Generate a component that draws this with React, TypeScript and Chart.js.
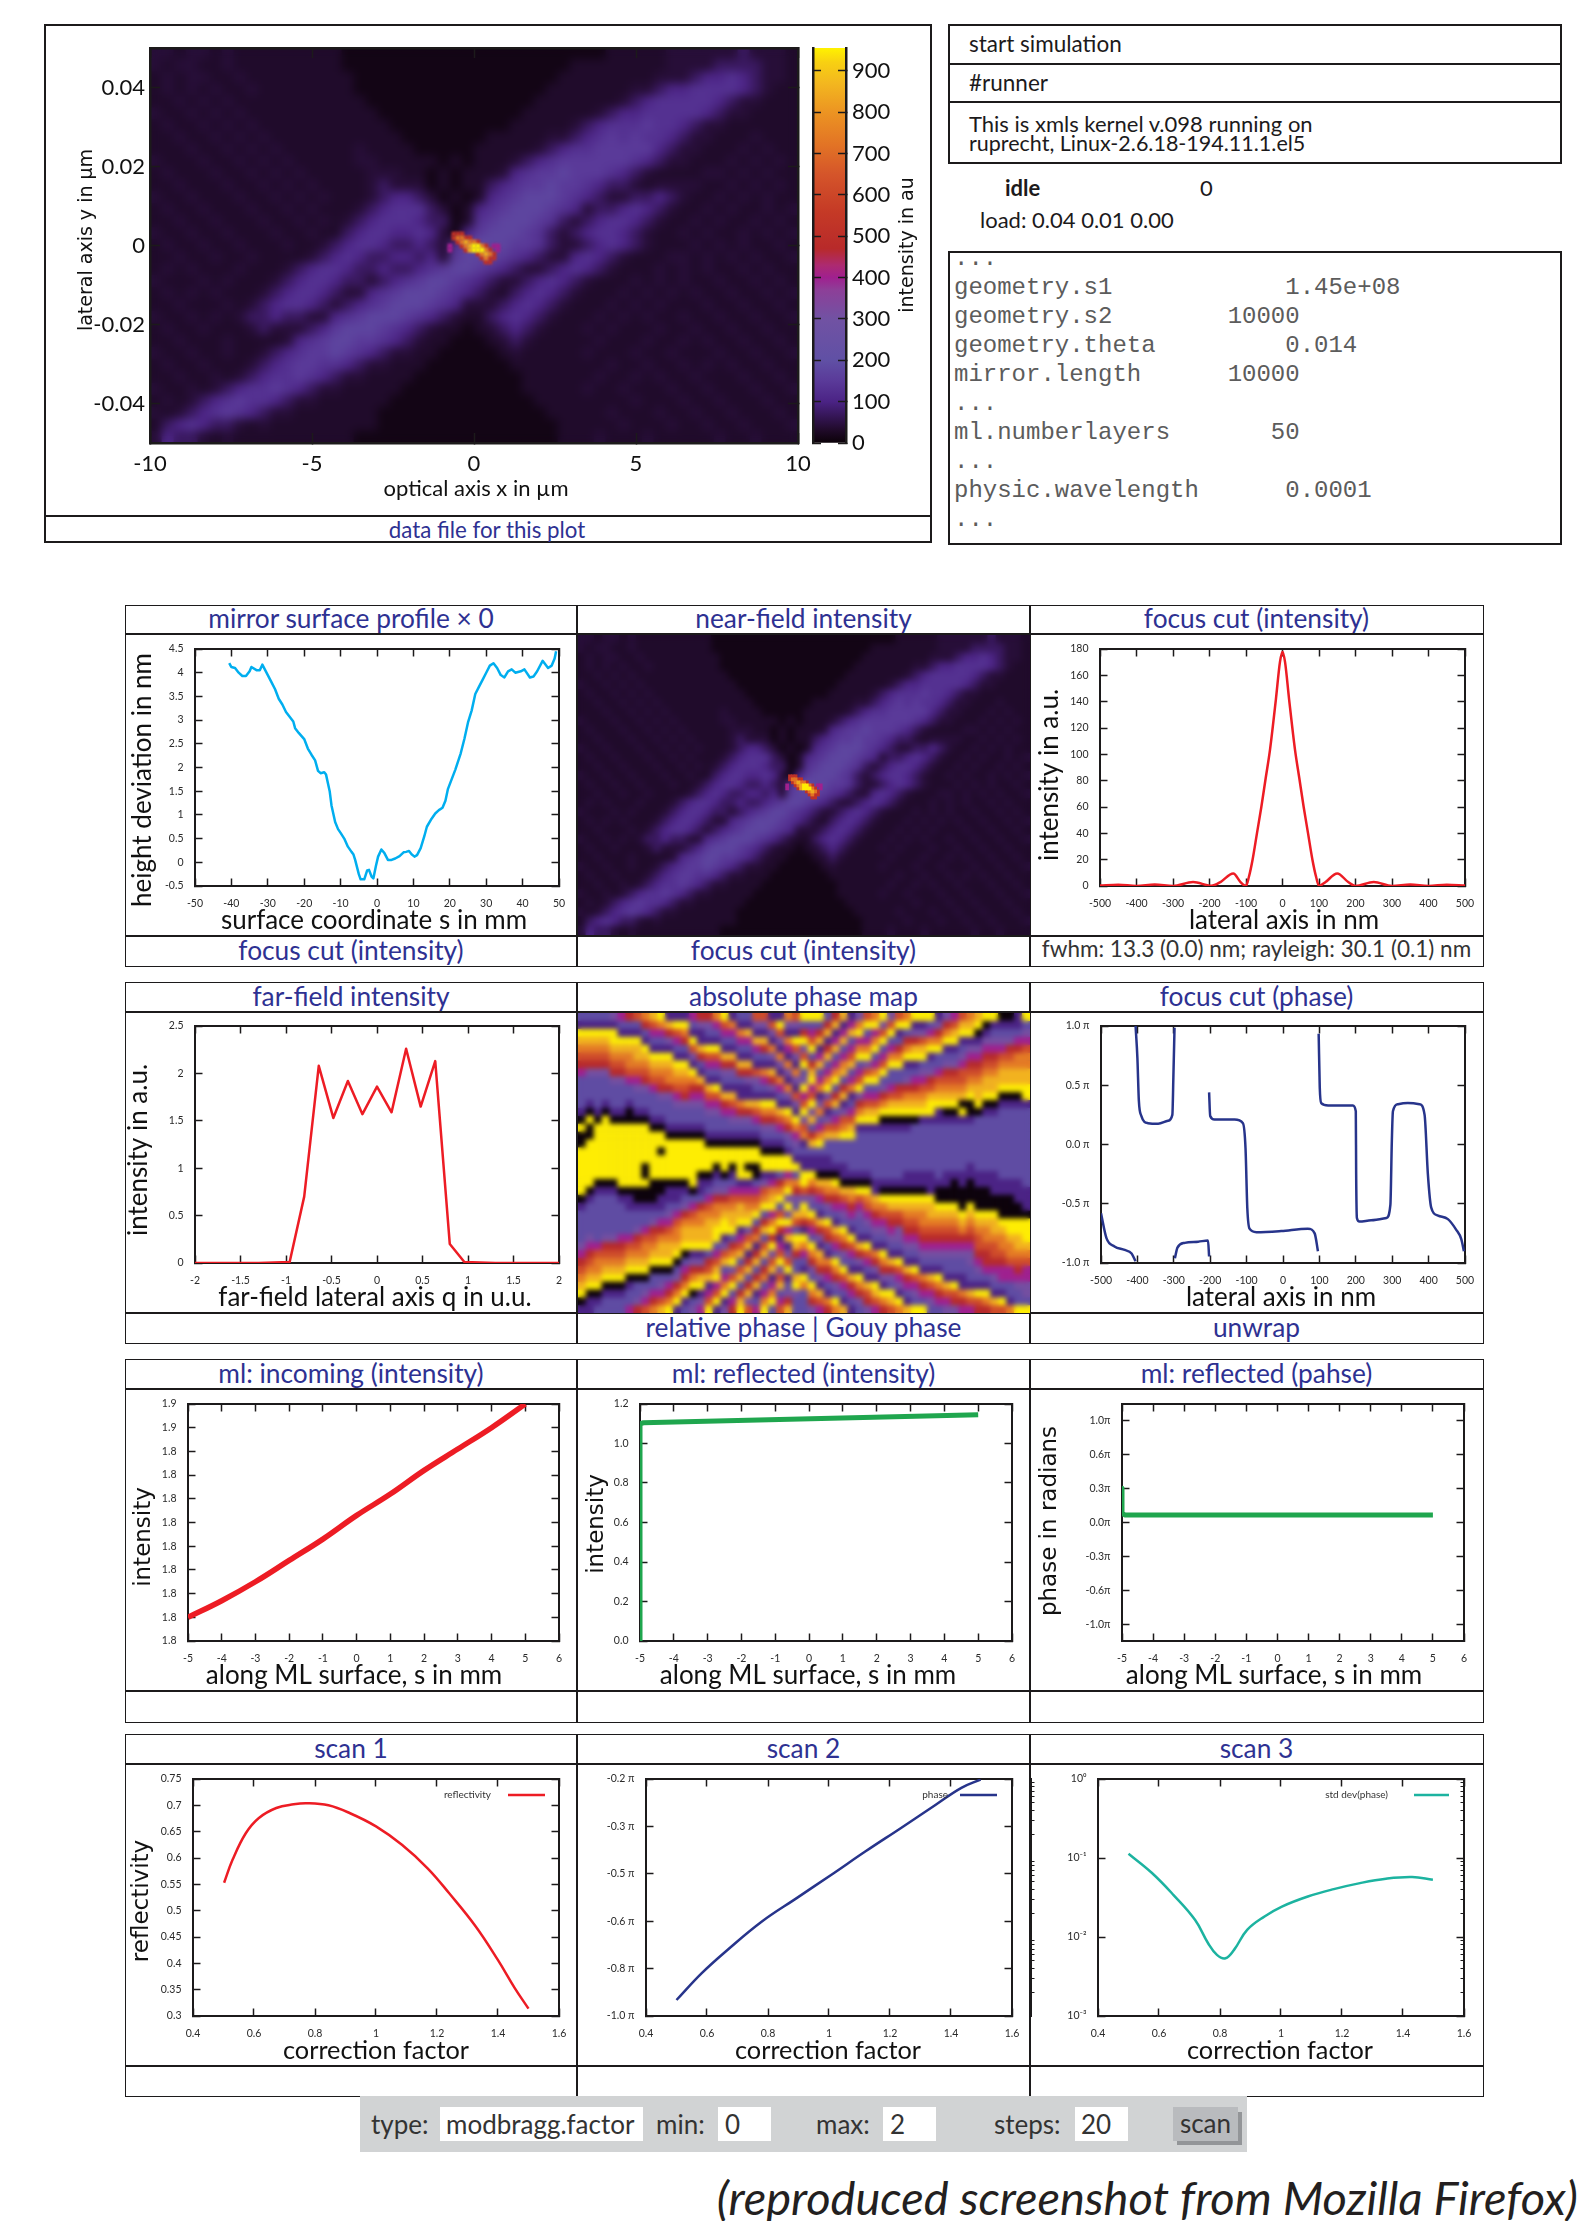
import React, { useEffect, useRef } from "react";
import { Chart, Scale, registerables } from "chart.js";

Chart.register(...registerables);

// ---------- data ----------
const intensityRows = [
  "221221211 111111100 000000000 000000000 001111122 222232221",
  "212211211 111111100 000000000 000000001 111111122 223333221",
  "121221121 111111110 000000000 000000011 111111222 344543221",
  "121212112 111111110 000000000 000000111 111122344 555543211",
  "112121211 111111111 000000000 000001111 111234555 554322111",
  "211212121 111111111 100000000 000011111 123445555 543221111",
  "121121212 111111111 110000000 000111112 345556554 322111111",
  "112112121 211111111 111000000 011111223 456565543 221112111",
  "111211212 121111112 111100000 111112345 566666432 211121211",
  "211121121 212111112 211111010 111234566 666654322 111212121",
  "121112112 121211111 222110101 112456676 665432111 122121211",
  "112111211 212121111 232220101 134566766 543321222 211212121",
  "211211121 121212111 234432010 145677765 432233432 112121211",
  "121121112 112121112 345553201 456777654 233454321 121211212",
  "112112111 211212123 455543301 567776532 345543211 212112121",
  "211211211 121121134 554454204 677765323 455432112 121121212",
  "121121121 112112345 543343257 877665322 345432111 212121121",
  "112112112 111123454 334434267 776543224 543211122 121212112",
  "121211121 112345543 343345677 654322345 432111212 121121211",
  "211121211 123455433 234567765 432234543 211121212 112112121",
  "121212111 234554322 456777654 321345432 111212121 211211212",
  "112111212 345543234 567776542 223454321 112121211 121121121",
  "211212123 343322456 777654321 134543211 121212112 112112112",
  "121121112 322234677 765432110 123432111 212111211 211211211",
  "112111211 112456776 654321100 012321111 121112112 121121121",
  "211211211 234566765 432211000 001211111 211121121 112112112",
  "121121112 345665543 221110000 000111111 112112112 121211211",
  "112112123 455654322 111100000 000011111 121121211 211121121",
  "211212345 565432211 111000000 000011111 211211121 121112112",
  "121234565 543221111 110000000 000001111 111121112 112111211",
  "212345654 322111111 100000000 000000111 112111211 211211121",
  "134543321 211111111 100000000 000000011 111211121 121121112",
  "243321211 111111110 000000000 000000011 121112111 112112111",
];
const intensityLevels = [12, 32, 42, 72, 105, 130, 150, 175, 200, 235];

const peakRows = [
  "...rrr..........",
  "...roorr........",
  "....rogoor......",
  "..m..rogyyor.mm.",
  "..m...rgyyyor.m.",
  ".........rogor..",
  "..........rorr..",
  "...........rr...",
];
const peakLevels: Record<string, number> = { m: 400, r: 510, o: 720, g: 840, y: 950 };

const phaseColumns = [
  "1098765432 2221099999 9009012222 45678912",
  "1109876543 2222109999 9900901222 35678912",
  "2109877642 2222210999 9999012222 35678912",
  "2210987653 2222210999 9999901222 35678912",
  "2210987653 2222210999 9999012223 56789913",
  "2210987654 2222109999 9999012223 56789124",
  "4221098764 2221109999 9999001224 67789125",
  "5322098765 3221009999 9999012234 67889126",
  "6432098776 4221009009 9999012235 67891257",
  "7542209876 5321000999 9990122246 78912468",
  "8643209887 5421100999 0990122356 78912479",
  "9754209887 6432110999 9901222357 78913581",
  "1975320987 7642110999 9901223467 89124691",
  "2197542098 8753210999 9901223567 89125791",
  "3209753198 8764209999 9901223457 91369124",
  "4319853198 8775211099 9901223458 12581135",
  "9641865298 8876421099 9012234681 24691235",
  "1964986429 9877532109 9012234691 24691247",
  "3197428631 9987532099 9012245812 35812469",
  "5429639752 9887642109 9012346812 35812471",
  "9852862864 1988641999 9012357112 58124712",
  "6385285186 3987641909 9012358113 58124812",
  "4218528517 5297642009 9012468123 61248136",
  "9742752862 8529763199 0123579124 71258136",
  "2974186395 9749874199 0123579135 81371361",
  "6428639641 5962975299 0124681247 13713691",
  "8532196318 4939397499 1235791371 37147137",
  "2239822589 2682357291 2347913613 71369136",
  "2227912479 1589369911 2176396493 29639529",
  "3579235792 4692357911 2852839649 85296429",
  "4681357813 5812468011 2974273174 28418529",
  "5712457125 6923578011 2286316397 42851852",
  "7923579246 8124579012 2286428529 74284185",
  "8124692357 9234680112 2297631852 87428418",
  "1245812469 1245780122 2298642174 28642841",
  "2357913581 2234690122 2221975396 42974973",
  "3568124691 2346790122 2221986429 63974296",
  "4689135712 3457811222 2221986429 74297497",
  "5791357912 3467901222 2221097532 96429639",
  "6892358123 4568901222 2221098642 29742963",
  "7913469123 3568901222 2221098652 29752196",
  "8124581234 5678901122 2221098753 21975297",
  "9234691234 5678901122 2222098754 21985319",
  "9245712345 6778901122 2222198764 32986319",
  "2346812345 6788911122 2222199865 32197429",
  "2457912345 6789001222 2222119876 42297531",
  "3468122345 6789001122 2222109876 53219753",
  "3569122345 6789000122 2222109876 53219864",
  "4571122345 7890001122 2222190876 64321986",
  "4681223345 6789000112 2222100987 65431987",
  "5691234566 7890001122 2222209887 65431098",
  "5791245567 7890001122 2222210988 76543109",
  "6812345667 8890011122 2222210988 76543219",
  "6912445677 8900011222 2222221098 87643210",
  "7122446778 9900011222 2222221098 87653210",
  "9223456788 9900111222 2222221098 87754211",
  "9233446789 9901112222 2222221998 87764329",
];
const phaseLevels = [0, 100, 190, 310, 400, 470, 620, 740, 860, 950];

const paletteValues = [0, 30, 60, 100, 150, 200, 300, 370, 400, 430, 470, 560, 650, 720, 800, 870, 920, 955];
const paletteColors = ["#0b0108", "#1f0a28", "#321450", "#4b2385", "#5a3a99", "#6050a5", "#7152a3", "#8d3f98", "#a0208f", "#ad2a70", "#b82a2a", "#c53a26", "#d5552a", "#e27325", "#ec9422", "#f3b71f", "#f8d012", "#fff200"];

const topXTicks = [-10, -5, 0, 5, 10];
const topYTicks = [-0.04, -0.02, 0, 0.02, 0.04];
const colorbarTicks = [0, 100, 200, 300, 400, 500, 600, 700, 800, 900];

const mirrorS = [-40.6, -40, -39, -38, -37, -36, -35, -34.5, -33, -32.2, -31.5, -30, -29, -28, -27, -26, -25, -24, -23, -22.5, -21.5, -20, -19, -18, -17, -16.2, -15.5, -14.5, -14, -13, -12.5, -11.5, -10.7, -10, -9, -8, -7, -6.5, -6, -5, -4.5, -3.5, -2.7, -2.2, -1.5, -1, -0.3, 0.3, 1.2, 2, 3, 4, 5, 6.2, 7.3, 8, 8.8, 9.5, 10.3, 11, 12, 13, 13.7, 15, 16, 17, 18, 18.8, 19.5, 20.5, 21.5, 23, 24, 25, 26, 27, 28, 29, 30, 31, 32, 33, 34, 35, 36, 37, 38, 39.5, 40.5, 42, 43, 44, 45.5, 47, 48, 48.8, 49.2];
const mirrorH = [4.2, 4.12, 4.1, 4.0, 3.93, 3.93, 4.03, 4.12, 4.05, 4.05, 4.17, 3.95, 3.8, 3.65, 3.45, 3.33, 3.17, 3.07, 2.97, 2.83, 2.73, 2.6, 2.4, 2.27, 2.15, 1.93, 1.88, 1.9, 1.85, 1.5, 1.2, 0.85, 0.7, 0.62, 0.5, 0.33, 0.22, 0.17, 0.05, -0.25, -0.36, -0.36, -0.17, -0.16, -0.3, -0.34, -0.08, 0.12, 0.27, 0.2, 0.05, 0.05, 0.08, 0.13, 0.21, 0.22, 0.24, 0.17, 0.12, 0.15, 0.3, 0.55, 0.75, 0.92, 1.03, 1.1, 1.15, 1.3, 1.55, 1.75, 1.95, 2.3, 2.6, 2.95, 3.2, 3.55, 3.7, 3.85, 4.0, 4.15, 4.2, 4.1, 3.95, 3.9, 4.03, 4.07, 4.0, 4.03, 4.07, 3.9, 3.92, 4.03, 4.25, 4.1, 4.15, 4.3, 4.45];
const mirrorXTicks = [-50, -40, -30, -20, -10, 0, 10, 20, 30, 40, 50];
const mirrorYTicks = [-0.5, 0, 0.5, 1, 1.5, 2, 2.5, 3, 3.5, 4, 4.5];

const focusX = [-500, -450, -400, -350, -300, -245, -195, -170, -135, -115, -105, -100, -92, -82, -70, -58, -46, -34, -18, -7, 0, 7, 18, 34, 46, 58, 70, 82, 92, 100, 105, 118, 150, 180, 200, 250, 300, 350, 400, 450, 500];
const focusI = [0.3, 1, 0, 1.2, 0, 3, 0.2, 3, 9.5, 3, 0.5, 0, 7, 20, 40, 60, 82, 104, 142, 170, 178, 170, 142, 104, 82, 60, 40, 20, 7, 0, 0.5, 3, 9.5, 3, 0, 3, 0, 1.2, 0, 1, 0.3];
const lateralTicks = [-500, -400, -300, -200, -100, 0, 100, 200, 300, 400, 500];
const focusYTicks = [0, 20, 40, 60, 80, 100, 120, 140, 160, 180];

const farQ = [-2, -1.3, -0.96, -0.8, -0.64, -0.48, -0.32, -0.16, 0, 0.16, 0.32, 0.48, 0.64, 0.8, 0.96, 1.3, 2];
const farI = [0, 0, 0.01, 0.7, 2.08, 1.53, 1.92, 1.57, 1.86, 1.59, 2.26, 1.65, 2.13, 0.2, 0.01, 0, 0];
const farXTicks = [-2, -1.5, -1, -0.5, 0, 0.5, 1, 1.5, 2];
const farYTicks = [0, 0.5, 1, 1.5, 2, 2.5];

const phaseCutX = [-500, -485, -463, -435, -416, -405, -405, -405, -400, -396, -389, -371, -343, -316, -304, -301, -298, -298, -297, -290, -270, -233, -206, -203, -203, -203, -200, -188, -133, -110, -103, -98, -92, -73, -5, 68, 87, 96, 97, 98, 101, 105, 124, 192, 200, 201, 203, 210, 242, 284, 295, 299, 302, 316, 343, 375, 389, 398, 407, 426, 453, 476, 490, 497];
const phaseCutY = [-0.58, -0.79, -0.86, -0.89, -0.92, -0.985, null, 1.0, 0.73, 0.37, 0.24, 0.18, 0.175, 0.2, 0.25, 0.59, 0.985, null, -0.96, -0.87, -0.83, -0.82, -0.81, -0.945, null, 0.44, 0.24, 0.21, 0.21, 0.18, -0.03, -0.54, -0.71, -0.74, -0.73, -0.71, -0.75, -0.9, null, 0.935, 0.48, 0.35, 0.33, 0.33, 0.28, -0.25, -0.62, -0.65, -0.64, -0.62, -0.51, 0.03, 0.28, 0.34, 0.35, 0.34, 0.25, -0.25, -0.53, -0.6, -0.63, -0.72, -0.8, -0.9];
const phaseCutYTicks = [-1, -0.5, 0, 0.5, 1];
const phaseCutYLabels = ["-1.0 π", "-0.5 π", "0.0 π", "0.5 π", "1.0 π"];

const mlXTicks = [-5, -4, -3, -2, -1, 0, 1, 2, 3, 4, 5, 6];
const incomingS = [-5, -4, -3, -2, -1, 0, 1, 2, 3, 4, 5];
const incomingI = [1.77, 1.777, 1.785, 1.794, 1.803, 1.813, 1.822, 1.832, 1.841, 1.85, 1.86];
const incomingYTicks = [1.76, 1.77, 1.78, 1.79, 1.8, 1.81, 1.82, 1.83, 1.84, 1.85, 1.86];
const incomingYLabels = ["1.8", "1.8", "1.8", "1.8", "1.8", "1.8", "1.8", "1.8", "1.8", "1.9", "1.9"];
const reflectedS = [-5, -5, -4.9, 5];
const reflectedI = [0, 1.1, 1.105, 1.145];
const reflectedYTicks = [0, 0.2, 0.4, 0.6, 0.8, 1, 1.2];
const reflectedYLabels = ["0.0", "0.2", "0.4", "0.6", "0.8", "1.0", "1.2"];
const reflPhaseS = [-5, -5, -4.9, 5];
const reflPhaseY = [0.338, 0.09, 0.075, 0.075];
const reflPhaseYTicks = [-1, -0.667, -0.333, 0, 0.333, 0.667, 1];
const reflPhaseYLabels = ["-1.0π", "-0.6π", "-0.3π", "0.0π", "0.3π", "0.6π", "1.0π"];

const scanXTicks = [0.4, 0.6, 0.8, 1, 1.2, 1.4, 1.6];
const scan1X = [0.502, 0.53, 0.573, 0.616, 0.673, 0.73, 0.773, 0.844, 0.915, 1.0, 1.085, 1.17, 1.24, 1.327, 1.4, 1.455, 1.5];
const scan1Y = [0.553, 0.597, 0.647, 0.676, 0.695, 0.702, 0.704, 0.7, 0.685, 0.66, 0.625, 0.58, 0.533, 0.47, 0.406, 0.353, 0.314];
const scan1YTicks = [0.3, 0.35, 0.4, 0.45, 0.5, 0.55, 0.6, 0.65, 0.7, 0.75];
const scan2X = [0.5, 0.582, 0.667, 0.78, 0.894, 1.008, 1.12, 1.235, 1.35, 1.434, 1.497];
const scan2Y = [-0.946, -0.856, -0.777, -0.681, -0.602, -0.523, -0.444, -0.366, -0.287, -0.23, -0.202];
const scan2YTicks = [-1, -0.84, -0.68, -0.52, -0.36, -0.2];
const scan2YLabels = ["-1.0 π", "-0.8 π", "-0.6 π", "-0.5 π", "-0.3 π", "-0.2 π"];
const scan3X = [0.5, 0.577, 0.647, 0.718, 0.761, 0.79, 0.818, 0.846, 0.889, 0.946, 1.003, 1.088, 1.173, 1.259, 1.344, 1.43, 1.498];
const scan3Y = [0.113, 0.0645, 0.0342, 0.0165, 0.00834, 0.00594, 0.00538, 0.00687, 0.0123, 0.0182, 0.0243, 0.0326, 0.0404, 0.0481, 0.0546, 0.0573, 0.053];
const scan3YTicks = [0.001, 0.01, 0.1, 1];
const scan3YLabels = ["10⁻³", "10⁻²", "10⁻¹", "10⁰"];
const scan3YMinor = [0.002, 0.003, 0.004, 0.005, 0.006, 0.007, 0.008, 0.009, 0.02, 0.03, 0.04, 0.05, 0.06, 0.07, 0.08, 0.09, 0.2, 0.3, 0.4, 0.5, 0.6, 0.7, 0.8, 0.9];

const configLines = [
  "...",
  "geometry.s1            1.45e+08",
  "geometry.s2        10000",
  "geometry.theta         0.014",
  "mirror.length      10000",
  "...",
  "ml.numberlayers       50",
  "...",
  "physic.wavelength      0.0001",
  "...",
];

// ---------- helpers ----------
const SANS = "Lato";
const WIDE = "'DejaVu Sans'";
const INK = "#1c1a1b";
const BLUE = "#2e3192";
const RED = "#ed1c24";
const GREEN = "#1fa64e";
const NAVY = "#27348b";
const SKY = "#00aeef";
const TEAL = "#1cb3a0";

const hex = (c: string) => [1, 3, 5].map((i) => parseInt(c.slice(i, i + 2), 16));
function colorAt(v: number) {
  let i = 0;
  while (i < paletteValues.length - 2 && v > paletteValues[i + 1]) i++;
  const t = Math.max(0, Math.min(1, (v - paletteValues[i]) / (paletteValues[i + 1] - paletteValues[i])));
  const a = hex(paletteColors[i]);
  const b = hex(paletteColors[i + 1]);
  return `rgb(${a.map((q, k) => Math.round(q + (b[k] - q) * t)).join(",")})`;
}

type Box = { l: number; t: number; r: number; b: number };

function axis(o: any) {
  const horizontal = o.pos === "top" || o.pos === "bottom";
  const size = o.size ?? 0;
  const tl = o.tickLen ?? 7.5;
  return {
    type: o.type ?? "linear",
    axis: horizontal ? "x" : "y",
    position: o.pos,
    min: o.min,
    max: o.max,
    afterBuildTicks: (s: any) => {
      s.ticks = (o.ticks ?? []).map((value: number) => ({ value }));
    },
    afterFit: (s: any) => {
      if (horizontal) s.height = size;
      else s.width = size;
      s.paddingLeft = 0;
      s.paddingRight = 0;
      s.paddingTop = 0;
      s.paddingBottom = 0;
      if (o.title && !s.__shifted) {
        s.__shifted = true;
        s.drawTitle = function () {
          const lh = o.title.size * 1.2;
          const curX = horizontal ? (this.left + this.right) / 2 : this.left + lh / 2;
          const curY = horizontal ? this.bottom - lh / 2 : (this.top + this.bottom) / 2;
          const keep = [this.left, this.right, this.top, this.bottom];
          if (horizontal) {
            this.left -= 300;
            this.right += 300;
          } else {
            this.top -= 300;
            this.bottom += 300;
          }
          this.ctx.save();
          this.ctx.translate(o.title.cx - curX, o.title.cy - curY);
          (Scale.prototype as any).drawTitle.call(this);
          this.ctx.restore();
          [this.left, this.right, this.top, this.bottom] = keep;
        };
      }
    },
    ticks: {
      display: !!o.showLabels,
      autoSkip: false,
      maxRotation: 0,
      minRotation: 0,
      padding: (o.gap ?? 12) + tl,
      color: o.labelColor ?? "#2a2a2a",
      font: { family: SANS, size: o.labelSize ?? 10.5 },
      callback: (v: number, i: number) => (o.labels ? o.labels[i] : String(v)),
    },
    grid: {
      drawOnChartArea: false,
      tickLength: -tl,
      tickColor: INK,
      tickWidth: o.tickWidth ?? 1.5,
      z: o.z ?? -1,
    },
    border: { display: true, color: INK, width: o.borderWidth ?? 2, z: o.z ?? 0 },
    title: o.title
      ? {
          display: true,
          text: o.title.text,
          color: "#111",
          padding: 0,
          font: { family: o.title.family ?? SANS, size: o.title.size, lineHeight: 1.2 },
        }
      : { display: false },
  };
}

const cornerLegend = {
  id: "cornerLegend",
  afterDatasetsDraw(chart: any, _a: any, opts: any) {
    if (!opts || !opts.show) return;
    const { ctx, chartArea } = chart;
    const ds = chart.data.datasets[0];
    const y = chartArea.top + 16;
    ctx.save();
    ctx.font = `10px ${SANS}`;
    ctx.fillStyle = "#333";
    ctx.textAlign = "right";
    ctx.textBaseline = "middle";
    ctx.fillText(ds.label, chartArea.right + opts.textRight, y);
    ctx.strokeStyle = ds.borderColor;
    ctx.lineWidth = 2.5;
    ctx.beginPath();
    ctx.moveTo(chartArea.right + opts.sampleLeft, y);
    ctx.lineTo(chartArea.right + opts.sampleRight, y);
    ctx.stroke();
    ctx.restore();
  },
};

// Paints the coarse cell dataset, softens the finished map in one pass so the
// cells blend like the smooth image plots of the reference, then lets the fine
// peak dataset draw on top (lightly softened per cell).
const softCells = {
  id: "softCells",
  beforeDatasetsDraw(chart: any, _a: any, opts: any) {
    if (!opts || !opts.base) return;
    const { ctx, chartArea: c } = chart;
    ctx.save();
    ctx.fillStyle = opts.base;
    ctx.fillRect(c.left, c.top, c.right - c.left, c.bottom - c.top);
    ctx.restore();
  },
  beforeDatasetDraw(chart: any, args: any, opts: any) {
    if (!opts || !opts.base || args.index !== 1) return;
    chart.ctx.save();
    chart.ctx.filter = `blur(${opts.peakBlur}px)`;
  },
  afterDatasetDraw(chart: any, args: any, opts: any) {
    if (!opts || !opts.base) return;
    const { ctx, chartArea: c, canvas } = chart;
    if (args.index === 1) {
      ctx.restore();
      return;
    }
    ctx.save();
    ctx.beginPath();
    ctx.rect(c.left, c.top, c.right - c.left, c.bottom - c.top);
    ctx.clip();
    ctx.filter = `blur(${opts.blur}px)`;
    ctx.drawImage(canvas, 0, 0);
    ctx.restore();
  },
};

function lineConfig(o: any) {
  const { box, plot } = o;
  const base = {
    min: o.xMin,
    max: o.xMax,
    ticks: o.xTicks,
  };
  const yBase = { type: o.yType, min: o.yMin, max: o.yMax, ticks: o.yTicks };
  const tc = (t: any) =>
    t ? { ...t, cx: t.cx - box.l, cy: t.cy - box.t } : undefined;
  const scales: any = {
    x: axis({ ...base, pos: "bottom", size: box.b - plot.b, showLabels: true, labels: o.xLabels, title: tc(o.xTitle), gap: o.xGap ?? 11 }),
    y: axis({ ...yBase, pos: "left", size: plot.l - box.l, showLabels: true, labels: o.yLabels, title: tc(o.yTitle), gap: 11.5 }),
    x2: axis({ ...base, pos: "top" }),
    y2: axis({ ...yBase, pos: "right" }),
  };
  if (o.yMinor) {
    scales.ym = axis({ ...yBase, ticks: o.yMinor, pos: "left", tickLen: 3.5, tickWidth: 1 });
    scales.y2m = axis({ ...yBase, ticks: o.yMinor, pos: "right", tickLen: 3.5, tickWidth: 1 });
  }
  return {
    type: "scatter",
    data: {
      datasets: [
        {
          label: o.label ?? "series",
          data: o.xs.map((x: number, i: number) => ({ x, y: o.ys[i] })),
          showLine: true,
          borderColor: o.color,
          borderWidth: o.width ?? 2.5,
          pointRadius: 0,
          spanGaps: false,
          cubicInterpolationMode: o.smooth === "mono" ? "monotone" : "default",
          tension: o.smooth === "soft" ? 0.4 : 0,
          borderJoinStyle: "round",
        },
      ],
    },
    options: {
      responsive: false,
      animation: false,
      devicePixelRatio: 1,
      events: [],
      layout: {
        autoPadding: false,
        padding: { left: 0, bottom: 0, top: plot.t - box.t, right: box.r - plot.r },
      },
      scales,
      plugins: { legend: { display: false }, tooltip: { enabled: false }, cornerLegend: o.legend ?? { show: false } },
    },
    plugins: [cornerLegend],
  };
}

function clean(s: string) {
  return s.replace(/ /g, "");
}

function intensityCells() {
  const rows = intensityRows.map(clean);
  const out: any[] = [];
  rows.forEach((row, r) => {
    for (let c = 0; c < row.length; c++) {
      out.push({
        x: -10 + ((c + 0.5) * 20) / 54,
        y: 0.05 - ((r + 0.5) * 0.1) / rows.length,
        v: intensityLevels[Number(row[c])],
      });
    }
  });
  return out;
}

function peakCells() {
  const out: any[] = [];
  peakRows.forEach((row, r) => {
    for (let c = 0; c < row.length; c++) {
      if (row[c] === ".") continue;
      out.push({
        x: -0.99 + c * 0.1235,
        y: 0.0029 - r * 0.00101,
        v: peakLevels[row[c]],
      });
    }
  });
  return out.sort((p, q) => p.v - q.v);
}

function heatDatasets(cellPx: number, peakPx: number) {
  const a = intensityCells();
  const b = peakCells();
  return [
    {
      data: a,
      order: 1,
      pointStyle: "rect",
      pointRadius: cellPx / Math.SQRT2 + 0.6,
      pointBorderWidth: 0,
      pointBackgroundColor: a.map((p) => colorAt(p.v)),
      clip: 0,
    },
    {
      data: b,
      order: 0,
      pointStyle: "rect",
      pointRadius: peakPx / Math.SQRT2 + 0.6,
      pointBorderWidth: 0,
      pointBackgroundColor: b.map((p) => colorAt(p.v)),
      clip: 0,
    },
  ];
}

function bareMap(datasets: any[], xr: number[], yr: number[], base: string, blur: number, peakBlur: number) {
  return {
    type: "scatter",
    data: { datasets },
    options: {
      responsive: false,
      animation: false,
      devicePixelRatio: 1,
      events: [],
      layout: { autoPadding: false, padding: 0 },
      scales: {
        x: { type: "linear", min: xr[0], max: xr[1], display: false },
        y: { type: "linear", min: yr[0], max: yr[1], display: false },
      },
      plugins: { legend: { display: false }, tooltip: { enabled: false }, softCells: { base, blur, peakBlur } },
    },
    plugins: [softCells],
  };
}

function phaseDatasets() {
  const cols = phaseColumns.map(clean);
  const pts: any[] = [];
  cols.forEach((col, c) => {
    for (let r = 0; r < col.length; r++) {
      pts.push({ x: c + 0.5, y: r + 0.5, v: phaseLevels[Number(col[r])] });
    }
  });
  return [
    {
      data: pts,
      pointStyle: "rect",
      pointRadius: 8.2 / Math.SQRT2,
      pointBorderWidth: 0,
      pointBackgroundColor: pts.map((p) => colorAt(p.v)),
      clip: 0,
    },
  ];
}

function CanvasChart({ box, make }: { box: Box; make: () => any }) {
  const ref = useRef<HTMLCanvasElement | null>(null);
  useEffect(() => {
    const chart = new Chart(ref.current as any, make());
    return () => chart.destroy();
  }, []);
  return (
    <canvas
      ref={ref}
      width={box.r - box.l}
      height={box.b - box.t}
      style={{ position: "absolute", left: box.l, top: box.t, width: box.r - box.l, height: box.b - box.t, display: "block" }}
    />
  );
}

function Line({ x1, y1, x2, y2, w = 1.5, c = INK }: any) {
  const horizontal = y1 === y2;
  return (
    <div
      style={{
        position: "absolute",
        left: horizontal ? x1 : x1 - w / 2,
        top: horizontal ? y1 - w / 2 : y1,
        width: horizontal ? x2 - x1 : w,
        height: horizontal ? w : y2 - y1,
        background: c,
      }}
    />
  );
}

function Txt({ x, y, w, children, size = 22, color = "#1c1a1b", align = "center", bold = false, italic = false }: any) {
  const h = size * 1.4;
  return (
    <div
      style={{
        position: "absolute",
        left: x,
        top: y - h / 2,
        width: w,
        height: h,
        lineHeight: `${h}px`,
        fontFamily: SANS,
        fontSize: size,
        fontWeight: bold ? 700 : 400,
        fontStyle: italic ? "italic" : "normal",
        color,
        textAlign: align,
        whiteSpace: "pre",
      }}
    >
      {children}
    </div>
  );
}

function FrameBox({ l, t, r, b, w = 2.5 }: any) {
  return <div style={{ position: "absolute", left: l, top: t, width: r - l - w, height: b - t - w, border: `${w}px solid ${INK}` }} />;
}

// ---------- table geometry ----------
const X = [125, 577, 1030, 1483];
const rows = [
  { top: 605, head: 634, foot: 936, bottom: 966, heads: ["mirror surface profile × 0", "near-field intensity", "focus cut (intensity)"], foots: ["focus cut (intensity)", "focus cut (intensity)", ""] },
  { top: 982, head: 1012, foot: 1313, bottom: 1343, heads: ["far-field intensity", "absolute phase map", "focus cut (phase)"], foots: ["", "relative phase | Gouy phase", "unwrap"] },
  { top: 1359, head: 1389, foot: 1691, bottom: 1722, heads: ["ml: incoming (intensity)", "ml: reflected (intensity)", "ml: reflected (pahse)"], foots: ["", "", ""] },
  { top: 1734, head: 1764, foot: 2066, bottom: 2096, heads: ["scan 1", "scan 2", "scan 3"], foots: ["", "", ""] },
];
const cellBox = (c: number, r: number): Box => ({ l: X[c] + 1, t: rows[r].head + 1, r: X[c + 1] - 1, b: rows[r].foot - 1 });

const topBox: Box = { l: 46, t: 26, r: 826, b: 514 };
const topPlot: Box = { l: 150, t: 48, r: 798, b: 443 };
const barBox: Box = { l: 800, t: 30, r: 928, b: 465 };
const barPlot: Box = { l: 813, t: 48, r: 846, b: 443 };

function topConfig() {
  const box = topBox;
  const plot = topPlot;
  const o = { tickLen: 10, z: 2, borderWidth: 2.5 };
  return {
    type: "scatter",
    data: { datasets: heatDatasets(12, 4) },
    options: {
      responsive: false,
      animation: false,
      devicePixelRatio: 1,
      events: [],
      layout: { autoPadding: false, padding: { left: 0, bottom: 0, top: plot.t - box.t, right: box.r - plot.r } },
      scales: {
        x: axis({ ...o, pos: "bottom", min: -10, max: 10, ticks: topXTicks, size: box.b - plot.b, showLabels: true, labelSize: 22, labelColor: "#111", gap: 8, title: { text: "optical axis x in µm", size: 22, cx: 476 - box.l, cy: 489 - box.t } }),
        y: axis({ ...o, pos: "left", min: -0.05, max: 0.05, ticks: topYTicks, size: plot.l - box.l, showLabels: true, labelSize: 22, labelColor: "#111", gap: 5, title: { text: "lateral axis y in µm", family: WIDE, size: 19, cx: 87 - box.l, cy: 240 - box.t } }),
        x2: axis({ ...o, pos: "top", min: -10, max: 10, ticks: topXTicks }),
        y2: axis({ ...o, pos: "right", min: -0.05, max: 0.05, ticks: topYTicks }),
      },
      plugins: { legend: { display: false }, tooltip: { enabled: false }, softCells: { base: "#1a0a20", blur: 5, peakBlur: 1 } },
    },
    plugins: [softCells],
  };
}

function barConfig() {
  const box = barBox;
  const plot = barPlot;
  const o = { tickLen: 8, z: 2, borderWidth: 2.5, min: 0, max: 955, ticks: colorbarTicks };
  return {
    type: "bar",
    data: {
      labels: ["intensity"],
      datasets: [
        {
          data: [[0, 955]],
          barPercentage: 1,
          categoryPercentage: 1,
          backgroundColor: (ctx: any) => {
            const { chart } = ctx;
            const area = chart.chartArea;
            if (!area) return "#000";
            const g = chart.ctx.createLinearGradient(0, area.bottom, 0, area.top);
            paletteValues.forEach((v, i) => g.addColorStop(v / 955, paletteColors[i]));
            return g;
          },
        },
      ],
    },
    options: {
      responsive: false,
      animation: false,
      devicePixelRatio: 1,
      events: [],
      layout: { autoPadding: false, padding: { left: 0, bottom: box.b - plot.b, top: plot.t - box.t, right: 0 } },
      scales: {
        x: { type: "category", display: false },
        y: axis({ ...o, pos: "right", size: box.r - plot.r, showLabels: true, labelSize: 22, labelColor: "#111", gap: 6 }),
        y2: axis({ ...o, pos: "left", size: plot.l - box.l, title: { text: "intensity in au", family: WIDE, size: 19, cx: 908 - box.l, cy: 245 - box.t } }),
      },
      plugins: { legend: { display: false }, tooltip: { enabled: false } },
    },
  };
}

const wideTitle = (text: string, cx: number, cy: number) => ({ text, family: WIDE, size: 23, cx, cy });
const bigTitle = (text: string, cx: number, cy: number, size = 26) => ({ text, size, cx, cy });

export default function App() {
  return (
    <div style={{ position: "absolute", left: 0, top: 0, width: 1578, height: 2221, background: "#fff", overflow: "hidden" }}>
      {/* top-left main plot */}
      <FrameBox l={44} t={24} r={930} b={541} />
      <Line x1={44} y1={516} x2={930} y2={516} w={2.5} />
      <CanvasChart box={topBox} make={topConfig} />
      <CanvasChart box={barBox} make={barConfig} />
      <Txt x={44} y={530} w={886} size={22.3} color={BLUE}>data file for this plot</Txt>

      {/* top-right panels */}
      <FrameBox l={948} t={24} r={1560} b={162} />
      <Line x1={948} y1={64} x2={1560} y2={64} w={2.5} />
      <Line x1={948} y1={102} x2={1560} y2={102} w={2.5} />
      <Txt x={969} y={44} w={560} size={22.5} align="left">start simulation</Txt>
      <Txt x={969} y={83} w={560} size={22.5} align="left">#runner</Txt>
      <Txt x={969} y={124} w={560} size={22} align="left">This is xmls kernel v.098 running on</Txt>
      <Txt x={969} y={143} w={560} size={21.5} align="left">ruprecht, Linux-2.6.18-194.11.1.el5</Txt>
      <Txt x={1005} y={188} w={100} size={22} align="left" bold>idle</Txt>
      <Txt x={1200} y={188} w={40} size={22} align="left">0</Txt>
      <Txt x={980} y={220} w={400} size={22} align="left">load: 0.04 0.01 0.00</Txt>
      <FrameBox l={948} t={251} r={1560} b={543} />
      <div style={{ position: "absolute", left: 954, top: 244, fontFamily: "'Liberation Mono'", fontSize: 24, lineHeight: "29px", color: "#5c5c5c", whiteSpace: "pre" }}>
        {configLines.map((l, i) => (
          <div key={i}>{l}</div>
        ))}
      </div>

      {/* table */}
      {rows.map((r, i) => (
        <React.Fragment key={i}>
          <FrameBox l={X[0]} t={r.top} r={X[3]} b={r.bottom} w={1.5} />
          <Line x1={X[0]} y1={r.head} x2={X[3]} y2={r.head} w={2} />
          <Line x1={X[0]} y1={r.foot} x2={X[3]} y2={r.foot} w={2} />
          <Line x1={X[1]} y1={r.top} x2={X[1]} y2={r.bottom} w={1.2} />
          <Line x1={X[2]} y1={r.top} x2={X[2]} y2={r.bottom} w={1.2} />
          {r.heads.map((h, c) => (
            <Txt key={c} x={X[c]} y={(r.top + r.head) / 2 - 1} w={X[c + 1] - X[c]} size={26.3} color={BLUE}>{h}</Txt>
          ))}
          {r.foots.map((h, c) =>
            h ? (
              <Txt key={c} x={X[c]} y={(r.foot + r.bottom) / 2 - 1} w={X[c + 1] - X[c]} size={26.3} color={BLUE}>{h}</Txt>
            ) : null
          )}
        </React.Fragment>
      ))}
      <Txt x={X[2]} y={949} w={X[3] - X[2]} size={22.5} color="#333">fwhm: 13.3 (0.0) nm; rayleigh: 30.1 (0.1) nm</Txt>

      {/* row 1 */}
      <CanvasChart
        box={cellBox(0, 0)}
        make={() =>
          lineConfig({
            box: cellBox(0, 0), plot: { l: 195, t: 649, r: 559, b: 886 },
            xMin: -50, xMax: 50, xTicks: mirrorXTicks, yMin: -0.5, yMax: 4.5, yTicks: mirrorYTicks,
            xs: mirrorS, ys: mirrorH, color: SKY, label: "height",
            xTitle: bigTitle("surface coordinate s in mm", 374, 921), yTitle: bigTitle("height deviation in nm", 143, 780),
          })
        }
      />
      <CanvasChart box={{ l: 578, t: 635, r: 1030, b: 935 }} make={() => bareMap(heatDatasets(9.1, 2.9), [-10, 10], [-0.05, 0.05], "#1a0a20", 3.6, 0.7)} />
      <CanvasChart
        box={cellBox(2, 0)}
        make={() =>
          lineConfig({
            box: cellBox(2, 0), plot: { l: 1100, t: 649, r: 1465, b: 886 },
            xMin: -500, xMax: 500, xTicks: lateralTicks, yMin: 0, yMax: 180, yTicks: focusYTicks,
            xs: focusX, ys: focusI, color: RED, label: "intensity", smooth: "mono",
            xTitle: bigTitle("lateral axis in nm", 1284, 921), yTitle: bigTitle("intensity in a.u.", 1050, 775),
          })
        }
      />

      {/* row 2 */}
      <CanvasChart
        box={cellBox(0, 1)}
        make={() =>
          lineConfig({
            box: cellBox(0, 1), plot: { l: 195, t: 1026, r: 559, b: 1263 },
            xMin: -2, xMax: 2, xTicks: farXTicks, yMin: 0, yMax: 2.5, yTicks: farYTicks,
            xs: farQ, ys: farI, color: RED, label: "far field",
            xTitle: bigTitle("far-field lateral axis q in u.u.", 375, 1298), yTitle: bigTitle("intensity in a.u.", 139, 1150),
          })
        }
      />
      <CanvasChart box={{ l: 578, t: 1013, r: 1030, b: 1313 }} make={() => bareMap(phaseDatasets(), [0, 57], [38, 0], "#5b41a0", 2.4, 0)} />
      <CanvasChart
        box={cellBox(2, 1)}
        make={() =>
          lineConfig({
            box: cellBox(2, 1), plot: { l: 1101, t: 1026, r: 1465, b: 1263 },
            xMin: -500, xMax: 500, xTicks: lateralTicks, yMin: -1, yMax: 1, yTicks: phaseCutYTicks, yLabels: phaseCutYLabels,
            xs: phaseCutX, ys: phaseCutY, color: NAVY, label: "phase", smooth: "mono",
            xTitle: bigTitle("lateral axis in nm", 1281, 1298),
          })
        }
      />

      {/* row 3 */}
      <CanvasChart
        box={cellBox(0, 2)}
        make={() =>
          lineConfig({
            box: cellBox(0, 2), plot: { l: 188, t: 1404, r: 559, b: 1641 },
            xMin: -5, xMax: 6, xTicks: mlXTicks, yMin: 1.76, yMax: 1.86, yTicks: incomingYTicks, yLabels: incomingYLabels,
            xs: incomingS, ys: incomingI, color: RED, width: 5.5, label: "incoming", smooth: "soft",
            xTitle: bigTitle("along ML surface, s in mm", 354, 1676), yTitle: wideTitle("intensity", 144, 1537),
          })
        }
      />
      <CanvasChart
        box={cellBox(1, 2)}
        make={() =>
          lineConfig({
            box: cellBox(1, 2), plot: { l: 640, t: 1404, r: 1012, b: 1641 },
            xMin: -5, xMax: 6, xTicks: mlXTicks, yMin: 0, yMax: 1.2, yTicks: reflectedYTicks, yLabels: reflectedYLabels,
            xs: reflectedS, ys: reflectedI, color: GREEN, width: 5, label: "reflected",
            xTitle: bigTitle("along ML surface, s in mm", 808, 1676), yTitle: wideTitle("intensity", 597, 1524),
          })
        }
      />
      <CanvasChart
        box={cellBox(2, 2)}
        make={() =>
          lineConfig({
            box: cellBox(2, 2), plot: { l: 1122, t: 1404, r: 1464, b: 1641 },
            xMin: -5, xMax: 6, xTicks: mlXTicks, yMin: -1.164, yMax: 1.167, yTicks: reflPhaseYTicks, yLabels: reflPhaseYLabels,
            xs: reflPhaseS, ys: reflPhaseY, color: GREEN, width: 5, label: "reflected phase",
            xTitle: bigTitle("along ML surface, s in mm", 1274, 1676), yTitle: wideTitle("phase in radians", 1050, 1521),
          })
        }
      />

      {/* row 4 */}
      <CanvasChart
        box={cellBox(0, 3)}
        make={() =>
          lineConfig({
            box: cellBox(0, 3), plot: { l: 193, t: 1779, r: 559, b: 2016 },
            xMin: 0.4, xMax: 1.6, xTicks: scanXTicks, yMin: 0.3, yMax: 0.75, yTicks: scan1YTicks,
            xs: scan1X, ys: scan1Y, color: RED, label: "reflectivity", smooth: "soft",
            legend: { show: true, textRight: -68, sampleLeft: -51, sampleRight: -14 },
            xTitle: bigTitle("correction factor", 376, 2051, 25.3), yTitle: wideTitle("reflectivity", 142, 1901),
          })
        }
      />
      <CanvasChart
        box={cellBox(1, 3)}
        make={() =>
          lineConfig({
            box: cellBox(1, 3), plot: { l: 646, t: 1779, r: 1012, b: 2016 },
            xMin: 0.4, xMax: 1.6, xTicks: scanXTicks, yMin: -1, yMax: -0.2, yTicks: scan2YTicks, yLabels: scan2YLabels,
            xs: scan2X, ys: scan2Y, color: NAVY, label: "phase", smooth: "soft",
            legend: { show: true, textRight: -64, sampleLeft: -52, sampleRight: -15 },
            xTitle: bigTitle("correction factor", 828, 2051, 25.3),
          })
        }
      />
      <CanvasChart
        box={cellBox(2, 3)}
        make={() =>
          lineConfig({
            box: cellBox(2, 3), plot: { l: 1098, t: 1779, r: 1464, b: 2016 },
            xMin: 0.4, xMax: 1.6, xTicks: scanXTicks, yType: "logarithmic", yMin: 0.001, yMax: 1, yTicks: scan3YTicks, yLabels: scan3YLabels, yMinor: scan3YMinor,
            xs: scan3X, ys: scan3Y, color: TEAL, label: "std dev(phase)", smooth: "soft",
            legend: { show: true, textRight: -76, sampleLeft: -50, sampleRight: -15 },
            xTitle: bigTitle("correction factor", 1280, 2051, 25.3),
          })
        }
      />

      {/* form */}
      <div style={{ position: "absolute", left: 360, top: 2096, width: 887, height: 56, background: "#d1d3d4" }} />
      <Txt x={371} y={2124} w={70} size={26} align="left" color="#333">type:</Txt>
      <div style={{ position: "absolute", left: 440, top: 2107, width: 203, height: 34, background: "#fff" }} />
      <Txt x={446} y={2124} w={195} size={26} align="left" color="#333">modbragg.factor</Txt>
      <Txt x={656} y={2124} w={60} size={26} align="left" color="#333">min:</Txt>
      <div style={{ position: "absolute", left: 718, top: 2107, width: 53, height: 34, background: "#fff" }} />
      <Txt x={725} y={2124} w={40} size={26} align="left" color="#333">0</Txt>
      <Txt x={816} y={2124} w={60} size={26} align="left" color="#333">max:</Txt>
      <div style={{ position: "absolute", left: 883, top: 2107, width: 53, height: 34, background: "#fff" }} />
      <Txt x={890} y={2124} w={40} size={26} align="left" color="#333">2</Txt>
      <Txt x={994} y={2124} w={80} size={26} align="left" color="#333">steps:</Txt>
      <div style={{ position: "absolute", left: 1075, top: 2107, width: 53, height: 34, background: "#fff" }} />
      <Txt x={1081} y={2124} w={40} size={26} align="left" color="#333">20</Txt>
      <div style={{ position: "absolute", left: 1177, top: 2112, width: 65, height: 33, background: "#939598" }} />
      <div style={{ position: "absolute", left: 1173, top: 2107, width: 65, height: 34, background: "#b9bbbe" }} />
      <Txt x={1173} y={2123} w={65} size={26} color="#333">scan</Txt>

      <Txt x={500} y={2198} w={1078} size={47} align="right" italic color="#231f20">(reproduced screenshot from Mozilla Firefox)</Txt>
    </div>
  );
}
